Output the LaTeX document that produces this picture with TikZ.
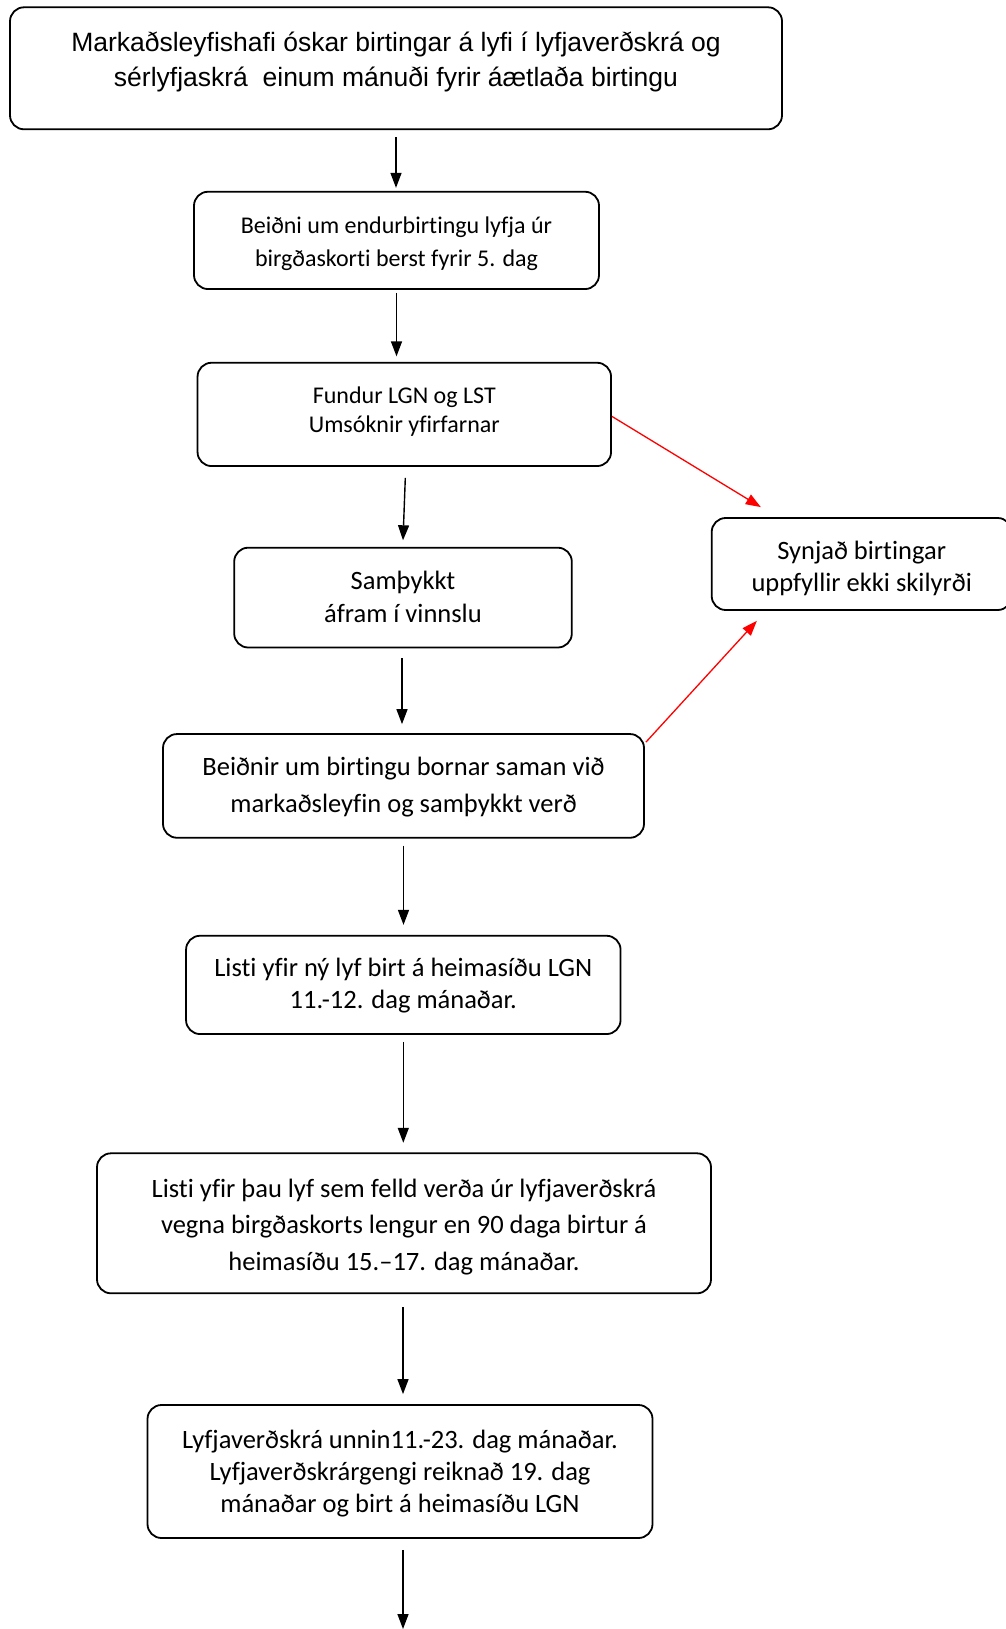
\documentclass[tikz,border=0pt]{standalone}
\usepackage{fontspec}
\newfontfamily\arialf[Ligatures=NoCommon]{Liberation Sans}
\newfontfamily\calf[Ligatures=NoCommon]{Carlito}
\usetikzlibrary{arrows.meta,calc}
\begin{document}
\begin{tikzpicture}[x=1pt,y=-1pt,
  box/.style={draw,line width=1.8pt,rounded corners=14pt,align=center,inner sep=0pt,text depth=0pt},
  arr/.style={line width=1.4pt,-{Triangle[length=15pt,width=11pt]}},
  rarr/.style={red,line width=1.3pt,-{Triangle[length=15pt,width=11pt]}}]
\useasboundingbox (0,0) rectangle (1005,1629);
\node[box,minimum width=772pt,minimum height=122pt,text height=36.4pt,font=\arialf\fontsize{26.5}{34.5}\selectfont] (top) at (396,68.3)
  {Markaðsleyfishafi óskar birtingar á lyfi í lyfjaverðskrá og\\sérlyfjaskrá\ \ einum mánuði fyrir áætlaða birtingu};
\node[box,minimum width=405pt,minimum height=97.3pt,text height=52.2pt,font=\calf\fontsize{24}{33.5}\selectfont] (b2) at (396.5,240.4)
  {Beiðni um endurbirtingu lyfja úr\\birgðaskorti berst fyrir 5. dag};
\node[box,minimum width=413.5pt,minimum height=103.3pt,text height=35.2pt,font=\calf\fontsize{24}{28.5}\selectfont] (b3) at (404.3,414.4)
  {Fundur LGN og LST\\Umsóknir yfirfarnar};
\node[box,minimum width=337.6pt,minimum height=99.8pt,text height=50pt,font=\calf\fontsize{26.5}{33}\selectfont] (b4) at (403,597.6)
  {Samþykkt\\áfram í vinnslu};
\node[box,minimum width=481pt,minimum height=103.7pt,text height=53.2pt,font=\calf\fontsize{26.5}{37}\selectfont] (b5) at (403.5,785.9)
  {Beiðnir um birtingu bornar saman við\\markaðsleyfin og samþykkt verð};
\node[box,minimum width=434.5pt,minimum height=98.3pt,text height=47.6pt,font=\calf\fontsize{26.5}{32}\selectfont] (b6) at (403.3,984.9)
  {Listi yfir ný lyf birt á heimasíðu LGN\\11.-12. dag mánaðar.};
\node[box,minimum width=614pt,minimum height=140pt,text height=93.4pt,font=\calf\fontsize{26.5}{36.5}\selectfont] (b7) at (404,1223.3)
  {Listi yfir þau lyf sem felld verða úr lyfjaverðskrá\\vegna birgðaskorts lengur en 90 daga birtur á\\heimasíðu 15.–17. dag mánaðar.};
\node[box,minimum width=505pt,minimum height=133pt,text height=81pt,font=\calf\fontsize{26.5}{32}\selectfont] (b8) at (400,1471.5)
  {Lyfjaverðskrá unnin11.-23. dag mánaðar.\\Lyfjaverðskrárgengi reiknað 19. dag\\mánaðar og birt á heimasíðu LGN};
\node[box,minimum width=300pt,minimum height=92pt,text height=55pt,font=\calf\fontsize{26.5}{32.5}\selectfont] (side) at (861.7,564)
  {Synjað birtingar\\uppfyllir ekki skilyrði};
\coordinate (endpt) at (403,1629);
\draw[arr] ([yshift=-7pt]top.south) -- ([yshift=3pt]top.south |- b2.north);
\draw[arr] ([yshift=-3pt]b2.south) -- ([yshift=5.5pt]b2.south |- b3.north);
\draw[arr] ([yshift=-11pt,xshift=1pt]b3.south) -- ([yshift=6.5pt]b4.north);
\draw[arr] ([yshift=-10pt,xshift=-1pt]b4.south) -- ([yshift=9pt,xshift=-1.5pt]b5.north);
\draw[arr] ([yshift=-7pt]b5.south) -- ([yshift=10pt]b5.south |- b6.north);
\draw[arr] ([yshift=-7pt]b6.south) -- ([yshift=9.6pt]b6.south |- b7.north);
\draw[arr] ([yshift=-13pt,xshift=-1pt]b7.south) -- ([yshift=10pt,xshift=-1pt]b7.south |- b8.north);
\draw[arr] ([yshift=-11pt]b8.south -| endpt) -- (endpt);
\draw[rarr] ([yshift=-2pt]b3.east) -- ($(side.north west)+(50,-10)$);
\draw[rarr] ($(b5.north east)+(1,9)$) -- ($(side.south west)+(46,10)$);
\end{tikzpicture}
\end{document}
